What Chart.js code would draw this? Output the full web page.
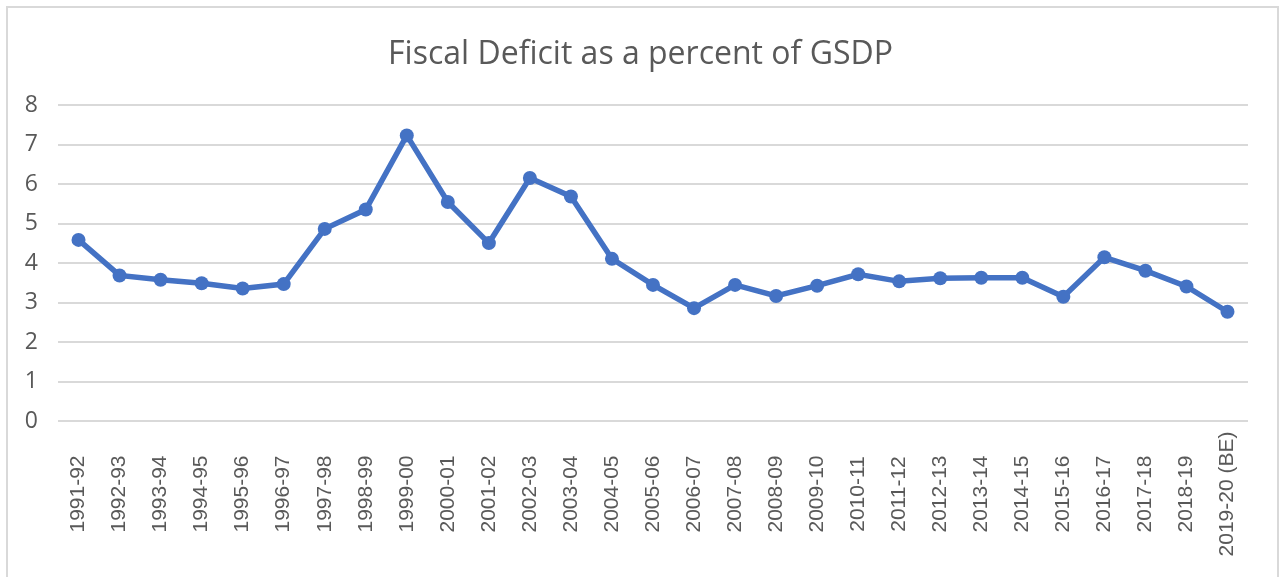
<!DOCTYPE html>
<html>
<head>
<meta charset="utf-8">
<script src="https://cdn.jsdelivr.net/npm/chart.js@4/dist/chart.umd.min.js"></script>
<style>
  html, body { margin: 0; padding: 0; background: #ffffff; overflow: hidden; }
  #wrap { position: relative; width: 1283px; height: 577px; }
  #frame { position: absolute; left: 6px; top: 6px; width: 1273px; height: 620px; box-sizing: border-box; border: 2px solid #d9d9d9; pointer-events: none; }
  canvas { position: absolute; left: 0; top: 0; }
</style>
</head>
<body>
<div id="wrap">
  <canvas id="c" width="1283" height="577"></canvas>
  <div id="frame"></div>
</div>
<script>
const chartTitle = "Fiscal Deficit as a percent of GSDP";
const years = ["1991-92","1992-93","1993-94","1994-95","1995-96","1996-97","1997-98","1998-99","1999-00","2000-01","2001-02","2002-03","2003-04","2004-05","2005-06","2006-07","2007-08","2008-09","2009-10","2010-11","2011-12","2012-13","2013-14","2014-15","2015-16","2016-17","2017-18","2018-19","2019-20 (BE)"];
const fiscalDeficit = [4.59, 3.69, 3.58, 3.49, 3.36, 3.47, 4.87, 5.36, 7.24, 5.55, 4.51, 6.16, 5.69, 4.11, 3.45, 2.86, 3.45, 3.17, 3.43, 3.72, 3.54, 3.62, 3.63, 3.63, 3.15, 4.15, 3.81, 3.41, 2.77];
const yMin = 0, yMax = 8, yStep = 1;

const centerXLabels = {
  id: 'centerXLabels',
  beforeDraw(chart) {
    const s = chart.scales.x;
    if (s._centerWrapped) return;
    const orig = s.drawLabels;
    s.drawLabels = function (area) {
      const items = this.getLabelItems(area);
      const cy = this.top + this.height / 2;
      items.forEach(it => {
        it.options.textAlign = 'center';
        it.options.translation = [it.options.translation[0], cy];
      });
      orig.call(this, area);
    };
    s._centerWrapped = true;
  }
};

new Chart(document.getElementById('c'), {
  type: 'line',
  data: {
    labels: years,
    datasets: [{
      data: fiscalDeficit,
      borderColor: '#4472c4',
      backgroundColor: '#4472c4',
      borderWidth: 5.5,
      pointRadius: 7,
      pointBorderWidth: 0,
      pointBackgroundColor: '#4472c4',
      tension: 0,
      fill: false
    }]
  },
  options: {
    responsive: false,
    animation: false,
    devicePixelRatio: 1,
    layout: { padding: { left: 6, right: 8, top: 6, bottom: 10 } },
    plugins: {
      legend: { display: false },
      tooltip: { enabled: false },
      title: {
        display: true,
        text: chartTitle,
        color: '#595959',
        font: { family: 'Open Sans', size: 32, weight: 'normal' },
        padding: { top: 30, bottom: 31 }
      }
    },
    scales: {
      x: {
        offset: true,
        grid: { display: false, drawTicks: false },
        border: { display: false },
        ticks: {
          autoSkip: false,
          minRotation: 90,
          maxRotation: 90,
          padding: 8,
          color: '#595959',
          font: { family: 'Liberation Sans', size: 21 }
        },
        afterFit(s) { s.height = 146; }
      },
      y: {
        min: yMin,
        max: yMax,
        grid: { color: '#d9d9d9', lineWidth: 2, drawTicks: false },
        border: { display: false },
        ticks: {
          stepSize: yStep,
          padding: 20,
          color: '#595959',
          font: { family: 'Open Sans', size: 23 }
        },
        afterFit(s) { s.width = 52; }
      },
      yRightSpace: {
        position: 'right',
        display: true,
        min: yMin,
        max: yMax,
        grid: { display: false, drawTicks: false },
        border: { display: false },
        ticks: { display: false },
        afterFit(s) { s.width = 27; }
      }
    }
  },
  plugins: [centerXLabels]
});
</script>
</body>
</html>
